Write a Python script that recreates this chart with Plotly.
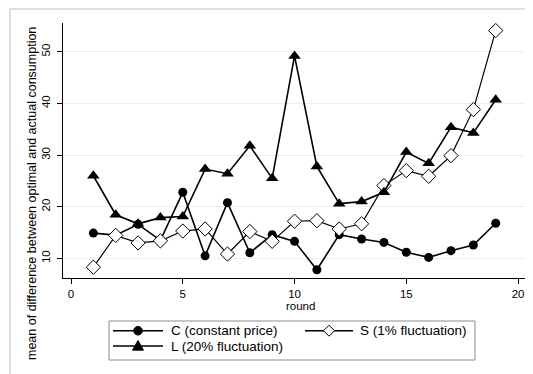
import plotly.graph_objects as go

rounds = list(range(1, 20))
c_vals = [14.9, 14.5, 16.6, 13.5, 22.8, 10.5, 20.8, 11.1, 14.6, 13.3, 7.8, 14.6, 13.75, 13.1, 11.2, 10.2, 11.5, 12.6, 16.8]
s_vals = [8.3, 14.45, 13.0, 13.4, 15.3, 15.7, 10.85, 15.2, 13.3, 17.2, 17.3, 15.7, 16.7, 24.1, 27.0, 25.9, 29.9, 38.8, 54.1]
l_vals = [26.0, 18.45, 16.7, 17.9, 18.1, 27.3, 26.4, 31.8, 25.5, 49.2, 27.8, 20.6, 21.0, 22.8, 30.6, 28.4, 35.4, 34.3, 40.7]

x_ticks = [0, 5, 10, 15, 20]
y_ticks = [10, 20, 30, 40, 50]
series_names = ["C (constant price)", "S (1% fluctuation)", "L (20% fluctuation)"]

FONT = "Liberation Sans, Arial, sans-serif"
OFF = 8  # page body margin in the browser
W, H = 533 - OFF, 374 - OFF
L, R, T, B = 63 - OFF, 6, 23 - OFF, 96
pw, ph = W - L - R, H - T - B


def px(xp):
    """window pixel x -> paper x"""
    return (xp - OFF - L) / pw


def py(yp):
    """window pixel y -> paper y"""
    return (H - B - (yp - OFF)) / ph


fig = go.Figure()
fig.add_trace(go.Scatter(x=rounds, y=c_vals, mode="lines+markers", name=series_names[0],
                         line=dict(color="black", width=1.6),
                         marker=dict(symbol="circle", size=9, color="black")))
fig.add_trace(go.Scatter(x=rounds, y=s_vals, mode="lines+markers", name=series_names[1],
                         line=dict(color="black", width=1.2),
                         marker=dict(symbol="diamond", size=11, color="white",
                                     line=dict(color="black", width=1))))
fig.add_trace(go.Scatter(x=rounds, y=l_vals, mode="lines+markers", name=series_names[2],
                         line=dict(color="black", width=1.6),
                         marker=dict(symbol="triangle-up", size=11, color="black")))

shapes = []
# outer graph frame
shapes.append(dict(type="rect", xref="paper", yref="paper",
                   x0=px(10), x1=px(560), y0=py(400), y1=py(9),
                   line=dict(color="#c0c0c0", width=1), fillcolor="rgba(0,0,0,0)", layer="below"))
# legend box
shapes.append(dict(type="rect", xref="paper", yref="paper",
                   x0=px(109), x1=px(475), y0=py(360), y1=py(321),
                   line=dict(color="#8c8c8c", width=1), fillcolor="white", layer="below"))

annotations = []
# legend entries (drawn manually)
entries = [
    (series_names[0], 113, 163, 138, 330.7, "circle"),
    (series_names[1], 305, 353, 329, 330.7, "diamond"),
    (series_names[2], 113, 163, 138, 346.0, "triangle"),
]
for name, xa, xb, xm, yr, sym in entries:
    shapes.append(dict(type="line", xref="paper", yref="paper",
                       x0=px(xa), x1=px(xb), y0=py(yr), y1=py(yr),
                       line=dict(color="black", width=1.6)))
    if sym == "circle":
        r = 4.3
        shapes.append(dict(type="circle", xref="paper", yref="paper",
                           x0=px(xm - r), x1=px(xm + r), y0=py(yr + r), y1=py(yr - r),
                           fillcolor="black", line=dict(color="black", width=1)))
    elif sym == "diamond":
        r = 5.5
        path = "M{},{} L{},{} L{},{} L{},{} Z".format(
            px(xm), py(yr - r), px(xm + r), py(yr), px(xm), py(yr + r), px(xm - r), py(yr))
        shapes.append(dict(type="path", xref="paper", yref="paper", path=path,
                           fillcolor="white", line=dict(color="black", width=1)))
    else:
        r = 5.5
        path = "M{},{} L{},{} L{},{} Z".format(
            px(xm), py(yr - r), px(xm + r), py(yr + r * 0.75), px(xm - r), py(yr + r * 0.75))
        shapes.append(dict(type="path", xref="paper", yref="paper", path=path,
                           fillcolor="black", line=dict(color="black", width=1)))
    tx = 169 if xa < 200 else 358
    annotations.append(dict(text=name, xref="paper", yref="paper", x=px(tx), y=py(yr),
                            xanchor="left", yanchor="middle", showarrow=False,
                            font=dict(family=FONT, size=13.5, color="black")))

# y axis title
annotations.append(dict(text="mean of difference between optimal and actual consumption",
                        xref="paper", yref="paper", x=px(32), y=py(194),
                        xanchor="center", yanchor="middle", textangle=-90, showarrow=False,
                        font=dict(family=FONT, size=12.5, color="black")))
# x axis title
annotations.append(dict(text="round", xref="paper", yref="paper", x=px(300), y=py(306),
                        xanchor="center", yanchor="middle", showarrow=False,
                        font=dict(family=FONT, size=11.5, color="black")))

fig.update_layout(
    width=W, height=H,
    margin=dict(l=L, r=R, t=T, b=B, autoexpand=False),
    paper_bgcolor="white", plot_bgcolor="white",
    font=dict(family=FONT, size=11, color="black"),
    showlegend=False,
    shapes=shapes,
    annotations=annotations,
    xaxis=dict(range=[-0.358, 20.40], tickvals=x_ticks, showgrid=False, zeroline=False,
               showline=True, linecolor="black", linewidth=1,
               ticks="outside", ticklen=5, tickcolor="black", ticklabelstandoff=0,
               tickfont=dict(size=11.5)),
    yaxis=dict(range=[6.21, 55.57], tickvals=y_ticks, showgrid=True, gridcolor="#e8f0f2",
               gridwidth=1, zeroline=False,
               showline=True, linecolor="black", linewidth=1,
               ticks="outside", ticklen=5, tickcolor="black", tickangle=-90,
               ticklabelstandoff=2,
               tickfont=dict(size=11.5)),
)

fig.write_html("out.html")
